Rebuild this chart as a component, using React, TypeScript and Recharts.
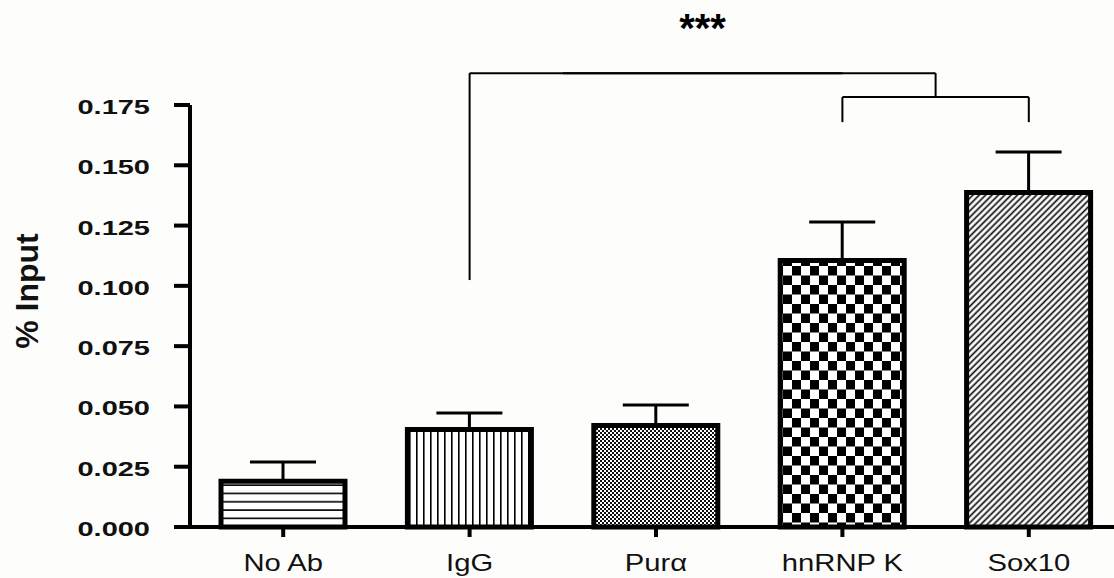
import { BarChart, Bar, XAxis, YAxis, ErrorBar, Cell, ReferenceLine } from "recharts";

// groups on the x axis
const categories = ["No Ab", "IgG", "Purα", "hnRNP K", "Sox10"];
// mean % input per group
const means = [0.019, 0.0404, 0.0421, 0.1105, 0.1387];
// upper error (SEM) per group
const sems = [0.008, 0.0069, 0.0085, 0.016, 0.0168];
const yTicks = [0, 0.025, 0.05, 0.075, 0.1, 0.125, 0.15, 0.175];
const patterns = ["hlines", "vlines", "finecheck", "check", "diag"];

// significance bracket levels (value coords)
const bracketTop = 0.1882;
const bracketSub = 0.1783;
const igGLegEnd = 0.1024;
const subLegEnd = 0.1679;
const starsLabel = "***";

// [from, to, yFrom, yTo, position in band]
const bracketSegments: [string, string, number, number, "start" | "middle" | "end"][] = [
  ["IgG", "IgG", igGLegEnd, bracketTop, "middle"],
  ["IgG", "Purα", bracketTop, bracketTop, "middle"],
  ["Purα", "hnRNP K", bracketTop, bracketTop, "middle"],
  ["IgG", "hnRNP K", bracketTop, bracketTop, "end"],
  ["hnRNP K", "hnRNP K", bracketTop, bracketSub, "end"],
  ["hnRNP K", "Sox10", bracketSub, bracketSub, "middle"],
  ["hnRNP K", "hnRNP K", bracketSub, subLegEnd, "middle"],
  ["Sox10", "Sox10", bracketSub, subLegEnd, "middle"],
];

const data = categories.map((name, i) => ({
  name,
  value: means[i],
  err: [0, sems[i]],
}));

const FONT = "'Liberation Sans', Arial, sans-serif";

const XTick = ({ x, y, payload }: any) => (
  <text
    transform={`translate(${x},${y + 32}) scale(1.27,1)`}
    textAnchor="middle"
    fontFamily={FONT}
    fontSize={23}
    fill="#111"
  >
    {payload.value}
  </text>
);

const YTick = ({ x, y, payload }: any) => (
  <text
    transform={`translate(${x - 22},${y + 9}) scale(1.45,1)`}
    textAnchor="end"
    fontFamily={FONT}
    fontWeight="bold"
    fontSize={20}
    fill="#111"
  >
    {Number(payload.value).toFixed(3)}
  </text>
);

const YTitle = () => (
  <text
    transform="translate(27,291) rotate(-90)"
    textAnchor="middle"
    dominantBaseline="central"
    fontFamily={FONT}
    fontWeight="bold"
    fontSize={32}
    fill="#111"
  >
    % Input
  </text>
);

// the "IgG -> hnRNP K (end)" segment spans two bands; the bracket runs from
// the IgG band middle to that end, so its centre sits 3/8 along.
const Stars = ({ viewBox }: any) => {
  if (!viewBox) return null;
  const cx = viewBox.x + (viewBox.width * 3) / 8;
  return (
    <text
      x={cx}
      y={viewBox.y - 31}
      textAnchor="middle"
      fontFamily={FONT}
      fontWeight="bold"
      fontSize={40}
      fill="#000"
    >
      {starsLabel}
    </text>
  );
};

function Patterns() {
  return (
    <svg width={0} height={0} style={{ position: "absolute" }}>
      <defs>
        <pattern id="hlines" patternUnits="userSpaceOnUse" width={10} height={8.3}>
          <rect width={10} height={8.3} fill="#fff" />
          <rect y={3} width={10} height={1.6} fill="#000" />
        </pattern>
        <pattern id="vlines" patternUnits="userSpaceOnUse" width={7} height={10}>
          <rect width={7} height={10} fill="#fff" />
          <rect x={3} width={1.6} height={10} fill="#000" />
        </pattern>
        <pattern id="finecheck" patternUnits="userSpaceOnUse" width={4} height={4}>
          <rect width={4} height={4} fill="#fff" />
          <rect width={2} height={2} fill="#111" />
          <rect x={2} y={2} width={2} height={2} fill="#111" />
        </pattern>
        <pattern id="check" patternUnits="userSpaceOnUse" width={18} height={19}>
          <rect width={18} height={19} fill="#fff" />
          <rect width={9} height={9.5} fill="#000" />
          <rect x={9} y={9.5} width={9} height={9.5} fill="#000" />
        </pattern>
        <pattern
          id="diag"
          patternUnits="userSpaceOnUse"
          width={4.5}
          height={10}
          patternTransform="rotate(45)"
        >
          <rect width={4.5} height={10} fill="#fff" />
          <rect x={1.5} width={1.7} height={10} fill="#111" />
        </pattern>
      </defs>
    </svg>
  );
}

export default function App() {
  return (
    <div
      style={{
        position: "absolute",
        left: 0,
        top: 0,
        width: 1114,
        height: 578,
        overflow: "hidden",
        background: "#fdfdfb",
      }}
    >
      <Patterns />
      <BarChart
        width={1130}
        height={578}
        data={data}
        margin={{ top: 105, right: 8, left: 0, bottom: 0 }}
      >
        <XAxis
          dataKey="name"
          height={51}
          tickSize={10}
          tick={<XTick />}
          axisLine={{ stroke: "#000", strokeWidth: 4 }}
          tickLine={{ stroke: "#000", strokeWidth: 4 }}
        />
        <YAxis
          width={190}
          domain={[0, 0.175]}
          ticks={yTicks}
          tickSize={16}
          tick={<YTick />}
          axisLine={{ stroke: "#000", strokeWidth: 4 }}
          tickLine={{ stroke: "#000", strokeWidth: 4 }}
          label={<YTitle />}
        />
        <Bar
          dataKey="value"
          barSize={124}
          stroke="#000"
          strokeWidth={5}
          isAnimationActive={false}
        >
          {data.map((d, i) => (
            <Cell key={d.name} fill={`url(#${patterns[i]})`} />
          ))}
          <ErrorBar dataKey="err" direction="y" width={33} stroke="#000" strokeWidth={3} />
        </Bar>
        {bracketSegments.map(([a, b, y1, y2, pos], i) => (
          <ReferenceLine
            key={i}
            ifOverflow="visible"
            position={pos}
            segment={[
              { x: a, y: y1 },
              { x: b, y: y2 },
            ]}
            stroke="#000"
            strokeWidth={2}
            label={i === 3 ? <Stars /> : undefined}
          />
        ))}
      </BarChart>
    </div>
  );
}
